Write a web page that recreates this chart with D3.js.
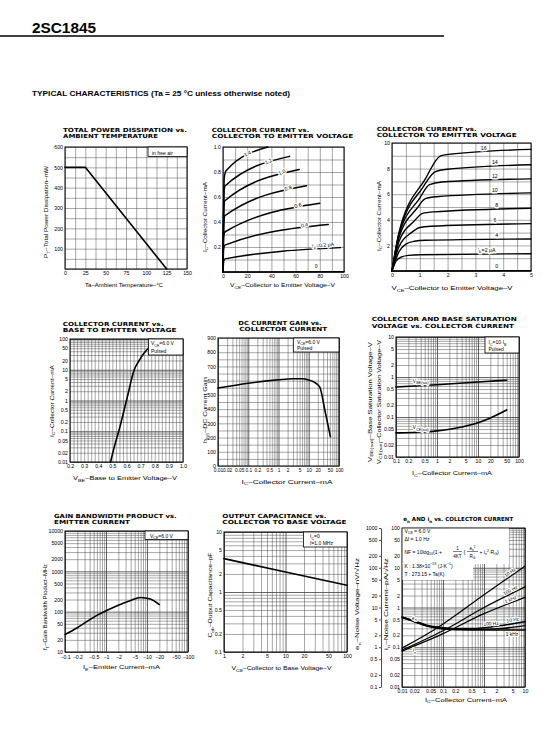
<!DOCTYPE html>
<html><head><meta charset="utf-8">
<script src="https://cdn.jsdelivr.net/npm/d3@7"></script>
<style>
body{margin:0;background:#fff;}
svg{display:block;}
</style></head><body>
<svg id="c" width="551" height="735"></svg>
<script>
// ================= DATA =================
// 1. Total power dissipation vs ambient temperature
const pdTemp = [0, 25, 125];
const pdPower = [500, 500, 0];
const pdXTicks = ["0","25","50","75","100","125","150"];
const pdYTicks = ["100","200","300","400","500","600"];

// 2. Collector current vs VCE (IB in uA), points [VCE, IC mA]
const lowIb0  = [[0,0],[100,0.003]];
const lowIb02 = [[0,0],[0.5,0.08],[1.5,0.105],[97,0.195]];
const lowIb04 = [[0,0],[0.5,0.18],[1.5,0.215],[87,0.38]];
const lowIb06 = [[0,0],[0.5,0.28],[1.5,0.32],[80,0.55]];
const lowIb08 = [[0,0],[0.7,0.40],[1.5,0.45],[69,0.69]];
const lowIb10 = [[0,0],[0.7,0.52],[1.5,0.57],[63,0.82]];
const lowIb12 = [[0,0],[0.8,0.64],[1.8,0.69],[55,0.925]];
const lowIb14 = [[0,0],[1.0,0.75],[2.5,0.81],[37,1.0]];
const lowIbNames = ["0","I_{B}=0.2 μA","0.4","0.6","0.8","1.0","1.2","1.4"];
const lowIbLabelAt = [77, 83, 68, 63, 55, 50, 39, 22];
const lowXTicks = ["0","20","40","60","80","100"];
const lowYTicks = ["0.2","0.4","0.6","0.8","1.0"];

// 3. Collector current vs VCE (higher IB)
const hiIb0  = [[0,0],[5,0.02]];
const hiIb2  = [[0,0],[0.15,0.8],[0.35,1.1],[0.6,1.22],[1,1.27],[5,1.35]];
const hiIb4  = [[0,0],[0.25,1.5],[0.5,2.1],[0.8,2.32],[1.2,2.4],[5,2.5]];
const hiIb6  = [[0,0],[0.25,1.9],[0.7,3.0],[1.0,3.4],[1.4,3.5],[5,3.7]];
const hiIb8  = [[0,0],[0.25,2.3],[0.8,3.9],[1.1,4.5],[1.5,4.62],[5,4.9]];
const hiIb10 = [[0,0],[0.25,2.6],[0.9,4.9],[1.2,5.65],[1.6,5.8],[5,6.1]];
const hiIb12 = [[0,0],[0.25,2.8],[1.0,5.7],[1.35,6.75],[1.8,6.95],[5,7.2]];
const hiIb14 = [[0,0],[0.25,2.9],[1.1,6.5],[1.55,7.75],[2,7.95],[5,8.3]];
const hiIb16 = [[0,0],[0.25,3.0],[1.2,7.2],[1.75,9.0],[2.2,9.15],[5,9.5]];
const hiIbNames = ["0","I_{B}=2 μA","4","6","8","10","12","14","16"];
const hiIbLabelAt = [3.77, 3.4, 3.77, 3.7, 3.77, 3.7, 3.7, 3.7, 3.3];
const hiXTicks = ["0","1","2","3","4","5"];
const hiYTicks = ["2","4","6","8","10"];

// 4. IC vs VBE
const vbeV  = [0.487, 0.52, 0.545, 0.6, 0.655, 0.69, 0.725, 0.755];
const vbeIc = [0.01, 0.04, 0.1, 1, 10, 20, 35, 50];
const vbeXTicks = ["0.2","0.3","0.4","0.5","0.6","0.7","0.8","0.9","1.0"];
const vbeYTicks = ["0.01","0.02","0.05","0.1","0.2","0.5","1","2","5","10","20","50","100"];

// 5. hFE vs IC
const hfeIc = [0.01, 0.1, 1, 3, 6, 10, 15, 23, 35, 52];
const hfe   = [548, 582, 606, 613, 613, 604, 590, 556, 380, 207];
const hfeXTicks = ["0.01","0.02","0.05","0.1","0.2","0.5","1","2","5","10","20","50","100"];
const hfeYTicks = ["0","100","200","300","400","500","600","700","800","900"];

// 6. Saturation voltages vs IC
const vbeSatIc = [0.1, 1, 10, 50];
const vbeSat   = [0.56, 0.64, 0.75, 0.83];
const vceSatIc = [0.1, 0.5, 1, 3, 6, 10, 20, 50];
const vceSat   = [0.040, 0.042, 0.045, 0.053, 0.062, 0.072, 0.095, 0.15];
const satXTicks = ["0.1","0.2","0.5","1","2","5","10","20","50","100"];
const satYTicks = ["0.01","0.02","0.05","0.1","0.2","0.5","1","2","5","10"];

// 7. fT vs IE
const ftIe = [0.1, 0.2, 0.6, 1, 2, 4, 7, 12, 20];
const ft   = [27, 40, 81, 105, 145, 190, 225, 205, 150];
const ftXTicks = ["0.1","0.2","0.5","1","2","5","10","20","50","100"];
const ftYTicks = ["10","20","50","100","200","500","1000","2000","5000","10000"];

// 8. Cob vs VCB
const cobV = [1, 10, 100];
const cob  = [3.6, 2.15, 1.3];
const cobXTicks = ["1","2","5","10","20","50","100"];
const cobYTicks = ["0.1","0.2","0.5","1","2","5","10"];

// 9. en and in vs IC
const en10Hz  = [[0.01,5.8],[0.02,4.6],[0.04,3.6],[0.08,3.2],[0.2,2.95],[0.5,2.95],[1,3.1],[3,3.6],[10,4.4]];
const en100Hz = [[0.01,5.7],[0.02,4.5],[0.04,3.5],[0.08,3.05],[0.2,2.85],[1,2.85],[3,3.0],[10,3.5]];
const en1kHz  = [[0.01,5.6],[0.02,4.4],[0.04,3.4],[0.08,2.95],[0.2,2.75],[1,2.7],[10,2.7]];
const in10Hz  = [[0.01,0.095],[0.08,0.33],[1,2.1],[10,11]];
const in100Hz = [[0.01,0.085],[0.1,0.26],[1,1.0],[10,3.3]];
const in1kHz  = [[0.01,0.08],[0.1,0.22],[1,0.7],[10,1.8]];
const noiseFreqs = ["10 Hz","100 Hz","1 kHz"];
const noiseXTicks = ["0.01","0.02","0.05","0.1","0.2","0.5","1","2","5","10"];
const inYTicks = ["0.01","0.02","0.05","0.1","0.2","0.5","1","2","5","10","20","50","100"];
const enYTicks = ["0.1","0.2","0.5","1","2","5","10","20","50","100","200","500","1000"];

// ================= DRAWING =================
const svg = d3.select('#c');
const FONT = '"Liberation Sans", Arial, sans-serif';
const TFONT = '"DejaVu Sans", sans-serif';
const GRID = '#3c3c3c';
const TFS = 5.2;

function rich(t, str, fs) {
  const parts = str.split(/(_\{[^}]*\}|\^\{[^}]*\})/).filter(s => s.length);
  let cur = 0;
  parts.forEach(p => {
    let target = 0, txt = p, size = fs;
    if (p.startsWith('_{')) { target = fs * 0.3; txt = p.slice(2, -1); size = fs * 0.72; }
    else if (p.startsWith('^{')) { target = -fs * 0.42; txt = p.slice(2, -1); size = fs * 0.72; }
    t.append('tspan').attr('dy', target - cur).attr('font-size', size).text(txt);
    cur = target;
  });
}
function label(g, str, x, y, o = {}) {
  const fs = o.fs || 6;
  const t = g.append('text').attr('x', x).attr('y', y).attr('font-size', fs)
    .attr('font-family', o.font || FONT).attr('text-anchor', o.anchor || 'start').attr('fill', '#000');
  if (o.bold) t.attr('font-weight', 'bold');
  if (o.rotate) t.attr('transform', `rotate(${o.rotate},${x},${y})`);
  if (o.len) t.attr('textLength', o.len).attr('lengthAdjust', 'spacingAndGlyphs');
  if (o.halo) t.attr('stroke', '#fff').attr('stroke-width', o.halo).attr('paint-order', 'stroke').attr('stroke-linejoin', 'round');
  rich(t, str, fs);
  return t;
}
function logGrid(lo, hi) {
  const out = [];
  for (let e = Math.floor(Math.log10(lo)); e <= Math.ceil(Math.log10(hi)); e++)
    for (let k = 1; k <= 9; k++) { const v = k * Math.pow(10, e); if (v >= lo * 0.999 && v <= hi * 1.001) out.push(v); }
  return out;
}
const isDecade = d => Math.abs(Math.log10(d) - Math.round(Math.log10(d))) < 1e-6;

function makeChart(c) {
  const g = svg.append('g');
  const x = (c.xLog ? d3.scaleLog() : d3.scaleLinear()).domain(c.xDomain).range([c.x0, c.x1]);
  const y = (c.yLog ? d3.scaleLog() : d3.scaleLinear()).domain(c.yDomain).range([c.y1, c.y0]);
  const gridG = g.append('g');
  const gx = gridG.append('g').attr('transform', `translate(0,${c.y1})`)
    .call(d3.axisBottom(x).tickValues(c.xGrid).tickSize(-(c.y1 - c.y0)).tickFormat(''));
  gx.select('.domain').remove();
  gx.selectAll('line').attr('stroke', GRID).attr('stroke-width', d => (c.xLog && isDecade(d)) ? 0.8 : 0.45);
  const gy = gridG.append('g').attr('transform', `translate(${c.x0},0)`)
    .call(d3.axisLeft(y).tickValues(c.yGrid).tickSize(-(c.x1 - c.x0)).tickFormat(''));
  gy.select('.domain').remove();
  gy.selectAll('line').attr('stroke', GRID).attr('stroke-width', d => (c.yLog && isDecade(d)) ? 0.8 : 0.45);
  g.append('rect').attr('x', c.x0).attr('y', c.y0).attr('width', c.x1 - c.x0).attr('height', c.y1 - c.y0)
    .attr('fill', 'none').attr('stroke', '#000').attr('stroke-width', 1);
  // tick labels
  const xfmt = c.xFmt || (s => s);
  const ax = g.append('g').attr('transform', `translate(0,${c.y1})`)
    .call(d3.axisBottom(x).tickValues(c.xTicks.map(Number)).tickFormat((d, i) => xfmt(c.xTicks[i])).tickSize(0).tickPadding(c.xPad || 2.6));
  ax.attr('font-size', c.xfs || TFS).attr('font-family', FONT);
  ax.select('.domain').remove(); ax.selectAll('.tick line').remove(); ax.selectAll('text').attr('fill', '#000');
  if (c.yTicks) {
    const ay = g.append('g').attr('transform', `translate(${c.x0},0)`)
      .call(d3.axisLeft(y).tickValues(c.yTicks.map(Number)).tickFormat((d, i) => c.yTicks[i]).tickSize(0).tickPadding(2));
    ay.attr('font-size', TFS).attr('font-family', FONT);
    ay.select('.domain').remove(); ay.selectAll('.tick line').remove(); ay.selectAll('text').attr('fill', '#000');
  }
  // titles
  c.titles.forEach(t => label(g, t.t, t.x, t.y, { fs: 5.6, bold: true, font: TFONT, len: t.len }));
  label(g, c.xTitle.t, c.xTitle.cx, c.xTitle.y, { fs: 6, anchor: 'middle', len: c.xTitle.len });
  c.yTitles.forEach(t => {
    const xx = t.cx + 6 * 0.36;
    label(g, t.t, xx, t.cy, { fs: 6, anchor: 'middle', len: t.len, rotate: -90 });
  });
  return { g, x, y, c };
}
function drawLine(ch, pts, w = 1.6, curve = d3.curveMonotoneX) {
  const ln = d3.line().x(d => ch.x(d[0])).y(d => ch.y(d[1])).curve(curve);
  ch.g.append('path').attr('d', ln(pts)).attr('fill', 'none').attr('stroke', '#000')
    .attr('stroke-width', w).attr('stroke-linejoin', 'round').attr('stroke-linecap', 'round');
}
function interp(ch, pts, xv) {
  const fx = ch.c.xLog ? Math.log10 : v => v, fy = ch.c.yLog ? Math.log10 : v => v, iy = ch.c.yLog ? v => Math.pow(10, v) : v => v;
  for (let i = 0; i < pts.length - 1; i++) {
    const a = pts[i], b = pts[i + 1];
    if (xv >= a[0] && xv <= b[0]) { const t = (fx(xv) - fx(a[0])) / (fx(b[0]) - fx(a[0])); return iy(fy(a[1]) + t * (fy(b[1]) - fy(a[1]))); }
  }
  return pts[pts.length - 1][1];
}
function curveLabel(ch, pts, xv, txt, o = {}) {
  const px = ch.x(xv), py = ch.y(interp(ch, pts, xv));
  let ang = 0;
  if (o.rotate) {
    const xa = ch.c.xLog ? xv / 1.2 : xv - 2, xb = ch.c.xLog ? xv * 1.2 : xv + 2;
    ang = Math.atan2(ch.y(interp(ch, pts, xb)) - ch.y(interp(ch, pts, xa)), ch.x(xb) - ch.x(xa)) * 180 / Math.PI;
  }
  const gg = ch.g.append('g').attr('transform', `translate(${px + (o.dx || 0)},${py}) rotate(${ang})`);
  label(gg, txt, 0, o.off !== undefined ? o.off : -2.2, { fs: o.fs || 5.2, anchor: 'middle', halo: o.halo || 2.4 });
}
function legendBox(ch, x, y, w, h, lines) {
  ch.g.append('rect').attr('x', x).attr('y', y).attr('width', w).attr('height', h)
    .attr('fill', '#fff').attr('stroke', '#000').attr('stroke-width', 0.8);
  lines.forEach(l => label(ch.g, l.t, l.x, l.y, { fs: 5 }));
}
const zip = (a, b) => a.map((v, i) => [v, b[i]]);

// ---- Header ----
label(svg, "2SC1845", 32, 33, { fs: 14.5, bold: true, len: 64 });
svg.append('line').attr('x1', 0).attr('x2', 444).attr('y1', 36).attr('y2', 36).attr('stroke', '#000').attr('stroke-width', 1.3);
label(svg, "TYPICAL CHARACTERISTICS (Ta = 25 °C unless otherwise noted)", 32, 95.5, { fs: 7.2, bold: true, len: 258 });

// ---- Chart 1 ----
const c1 = makeChart({ x0: 65, x1: 187, y0: 147, y1: 269, xDomain: [0, 150], yDomain: [0, 600],
  xGrid: d3.range(0, 150.01, 12.5), yGrid: d3.range(0, 600.01, 50), xTicks: pdXTicks, yTicks: pdYTicks,
  titles: [{ t: "TOTAL POWER DISSIPATION vs.", x: 63, y: 132.3, len: 124 }, { t: "AMBIENT TEMPERATURE", x: 63, y: 138.3, len: 95 }],
  xTitle: { t: "Ta–Ambient Temperature–°C", cx: 124, y: 286.5, len: 78 },
  yTitles: [{ t: "P_{T}–Total Power Dissipation–mW", cx: 46, cy: 212, len: 92 }] });
drawLine(c1, zip(pdTemp, pdPower), 1.6, d3.curveLinear);
legendBox(c1, 148, 147, 39, 9.5, [{ t: "in free air", x: 152, y: 154.5 }]);

// ---- Chart 2 ----
const c2 = makeChart({ x0: 223, x1: 344, y0: 147, y1: 272, xDomain: [0, 100], yDomain: [0, 1.0],
  xGrid: d3.range(0, 100.01, 10), yGrid: d3.range(0, 1.001, 0.1), xTicks: lowXTicks, yTicks: lowYTicks,
  titles: [{ t: "COLLECTOR CURRENT vs.", x: 211.7, y: 131.7, len: 97.6 }, { t: "COLLECTOR TO EMITTER VOLTAGE", x: 211.7, y: 137.7, len: 141.6 }],
  xTitle: { t: "V_{CE}–Collector to Emitter Voltage–V", cx: 282.5, y: 287, len: 105 },
  yTitles: [{ t: "I_{C}–Collector Current–mA", cx: 204.5, cy: 217, len: 70 }] });
const lowSeries = [lowIb0, lowIb02, lowIb04, lowIb06, lowIb08, lowIb10, lowIb12, lowIb14];
lowSeries.forEach(s => drawLine(c2, s, 1.5));
lowSeries.forEach((s, i) => curveLabel(c2, s, lowIbLabelAt[i], lowIbNames[i], { rotate: i > 0, off: i === 0 ? -4 : -2.4 }));

// ---- Chart 3 ----
const c3 = makeChart({ x0: 392, x1: 531, y0: 143, y1: 271, xDomain: [0, 5], yDomain: [0, 10],
  xGrid: d3.range(0, 5.01, 0.5), yGrid: d3.range(0, 10.01, 1), xTicks: hiXTicks, yTicks: hiYTicks,
  titles: [{ t: "COLLECTOR CURRENT vs.", x: 376.7, y: 131, len: 100 }, { t: "COLLECTOR TO EMITTER VOLTAGE", x: 376.7, y: 137, len: 140 }],
  xTitle: { t: "V_{CE}–Collector to Emitter Voltage–V", cx: 452, y: 290, len: 121 },
  yTitles: [{ t: "I_{C}–Collector Current–mA", cx: 378.5, cy: 216, len: 70 }] });
const hiSeries = [hiIb0, hiIb2, hiIb4, hiIb6, hiIb8, hiIb10, hiIb12, hiIb14, hiIb16];
hiSeries.forEach(s => drawLine(c3, s, 1.4));
hiSeries.forEach((s, i) => curveLabel(c3, s, hiIbLabelAt[i], hiIbNames[i], { off: -2.6, halo: 3 }));

// ---- Chart 4 ----
const c4 = makeChart({ x0: 70, x1: 183, y0: 339, y1: 462, xDomain: [0.2, 1.0], yDomain: [0.01, 100], yLog: true,
  xGrid: d3.range(0.2, 1.001, 0.025), yGrid: logGrid(0.01, 100), xTicks: vbeXTicks, yTicks: vbeYTicks,
  titles: [{ t: "COLLECTOR CURRENT vs.", x: 62.7, y: 326, len: 100.7 }, { t: "BASE TO EMITTER VOLTAGE", x: 62.7, y: 331.8, len: 114 }],
  xTitle: { t: "V_{BE}–Base to Emitter Voltage–V", cx: 125, y: 480, len: 104 },
  yTitles: [{ t: "I_{C}–Collector Current–mA", cx: 51.5, cy: 401, len: 72 }] });
drawLine(c4, zip(vbeV, vbeIc), 1.6);
legendBox(c4, 148.5, 339, 34.5, 16, [{ t: "V_{CE}=6.0 V", x: 151, y: 345 }, { t: "Pulsed", x: 151, y: 352.7 }]);

// ---- Chart 5 ----
const c5 = makeChart({ x0: 218, x1: 339, y0: 338, y1: 466, xDomain: [0.01, 100], yDomain: [0, 900], xLog: true, xfs: 4.8,
  xGrid: logGrid(0.01, 100), yGrid: d3.range(0, 900.01, 50), xTicks: hfeXTicks, yTicks: hfeYTicks,
  titles: [{ t: "DC CURRENT GAIN vs.", x: 238.3, y: 325.3, len: 83.4 }, { t: "COLLECTOR CURRENT", x: 239.3, y: 331, len: 88 }],
  xTitle: { t: "I_{C}–Collector Current–mA", cx: 287, y: 483.5, len: 91 },
  yTitles: [{ t: "h_{FE}–DC Current Gain", cx: 205, cy: 410, len: 66 }] });
drawLine(c5, zip(hfeIc, hfe), 1.6);
legendBox(c5, 293.3, 338, 45.7, 14, [{ t: "V_{CE}=6.0 V", x: 297, y: 343.8 }, { t: "Pulsed", x: 297, y: 350.3 }]);

// ---- Chart 6 ----
const c6 = makeChart({ x0: 396, x1: 519, y0: 337, y1: 457, xDomain: [0.1, 100], yDomain: [0.01, 10], xLog: true, yLog: true,
  xGrid: logGrid(0.1, 100), yGrid: logGrid(0.01, 10), xTicks: satXTicks, yTicks: satYTicks,
  titles: [{ t: "COLLECTOR AND BASE SATURATION", x: 371.7, y: 321, len: 145 }, { t: "VOLTAGE vs. COLLECTOR CURRENT", x: 371.7, y: 327.7, len: 142.3 }],
  xTitle: { t: "I_{C}–Collector Current–mA", cx: 452, y: 475, len: 80 },
  yTitles: [{ t: "V_{BE(sat)}–Base Saturation Voltage–V", cx: 369.5, cy: 402, len: 120 },
            { t: "V_{CE(sat)}–Collector Saturation Voltage–V", cx: 378.5, cy: 402, len: 124 }] });
const vbeSatPts = zip(vbeSatIc, vbeSat), vceSatPts = zip(vceSatIc, vceSat);
drawLine(c6, vbeSatPts, 1.6);
drawLine(c6, vceSatPts, 1.6);
curveLabel(c6, vbeSatPts, 0.4, "V_{BE(sat)}", { off: -2.8, fs: 5.2 });
curveLabel(c6, vceSatPts, 0.4, "V_{CE(sat)}", { off: -3.2, fs: 5.2 });
legendBox(c6, 485, 337, 34, 16, [{ t: "I_{C}=10·I_{B}", x: 488.5, y: 344 }, { t: "Pulsed", x: 488.5, y: 351.2 }]);

// ---- Chart 7 ----
const c7 = makeChart({ x0: 65, x1: 188, y0: 531, y1: 652, xDomain: [0.1, 100], yDomain: [10, 10000], xLog: true, yLog: true,
  xGrid: logGrid(0.1, 100), yGrid: logGrid(10, 10000), xTicks: ftXTicks, yTicks: ftYTicks, xFmt: s => "−" + s, xPad: 3.4,
  titles: [{ t: "GAIN BANDWIDTH PRODUCT vs.", x: 54, y: 518.3, len: 122.7 }, { t: "EMITTER CURRENT", x: 54, y: 523.9, len: 76 }],
  xTitle: { t: "I_{E}–Emitter Current–mA", cx: 121.5, y: 669, len: 77 },
  yTitles: [{ t: "f_{T}–Gain Bandwidth Product–MHz", cx: 45, cy: 607, len: 86 }] });
drawLine(c7, zip(ftIe, ft), 1.6);
legendBox(c7, 145, 531, 43, 8.5, [{ t: "V_{CE}=6.0 V", x: 150, y: 537.8 }]);

// ---- Chart 8 ----
const c8 = makeChart({ x0: 224, x1: 347, y0: 532, y1: 652, xDomain: [1, 100], yDomain: [0.1, 10], xLog: true, yLog: true,
  xGrid: logGrid(1, 100), yGrid: logGrid(0.1, 10), xTicks: cobXTicks, yTicks: cobYTicks,
  titles: [{ t: "OUTPUT CAPACITANCE vs.", x: 222.3, y: 518.3, len: 104.3 }, { t: "COLLECTOR TO BASE VOLTAGE", x: 222.3, y: 523.9, len: 124.3 }],
  xTitle: { t: "V_{CB}–Collector to Base Voltage–V", cx: 281.5, y: 670, len: 100 },
  yTitles: [{ t: "C_{ob}–Output Capacitance–pF", cx: 210, cy: 595, len: 85 }] });
drawLine(c8, zip(cobV, cob), 1.6);
legendBox(c8, 303.5, 532, 43.5, 15, [{ t: "I_{C}=0", x: 310, y: 538 }, { t: "f=1.0 MHz", x: 310, y: 545 }]);

// ---- Chart 9 ----
const c9 = makeChart({ x0: 402, x1: 525, y0: 528, y1: 687, xDomain: [0.01, 10], yDomain: [0.01, 100], xLog: true, yLog: true,
  xGrid: logGrid(0.01, 10), yGrid: logGrid(0.01, 100), xTicks: noiseXTicks, yTicks: inYTicks,
  titles: [{ t: "e_{n} AND i_{n} vs. COLLECTOR CURRENT", x: 403.3, y: 521, len: 110 }],
  xTitle: { t: "I_{C}–Collector Current–mA", cx: 466, y: 701.5, len: 82 },
  yTitles: [{ t: "e_{n}–Noise Voltage–nV/√Hz", cx: 357, cy: 604, len: 92 },
            { t: "i_{n}–Noise Current–pA/√Hz", cx: 386, cy: 604, len: 92 }] });
// outer en axis
const yEn = d3.scaleLog().domain([0.1, 1000]).range([687, 528]);
const aEn = c9.g.append('g').attr('transform', 'translate(381,0)')
  .call(d3.axisLeft(yEn).tickValues(enYTicks.map(Number)).tickFormat((d, i) => enYTicks[i]).tickSize(2).tickSizeOuter(0).tickPadding(1.5));
aEn.attr('font-size', TFS).attr('font-family', FONT);
aEn.selectAll('path,line').attr('stroke', '#000').attr('stroke-width', 0.7);
aEn.selectAll('text').attr('fill', '#000');
// white area behind the formula text
c9.g.append('rect').attr('x', 402.5).attr('y', 528.5).attr('width', 106.5).attr('height', 35.5).attr('fill', '#fff');
c9.g.append('rect').attr('x', 402.5).attr('y', 563).attr('width', 70.5).attr('height', 17).attr('fill', '#fff');
// curves
const enScaled = s => s.map(d => [d[0], d[1] / 10]); // en plotted on outer axis (one decade offset)
const enSeries = [en10Hz, en100Hz, en1kHz], inSeries = [in10Hz, in100Hz, in1kHz];
inSeries.forEach(s => drawLine(c9, s, 1.2));
enSeries.forEach(s => drawLine({ g: c9.g, x: c9.x, y: v => yEn(v), c: c9.c }, s, 1.5));
inSeries.forEach((s, i) => curveLabel(c9, s, 4.8, noiseFreqs[i], { rotate: true, off: -1.8, fs: 4.8, halo: 2 }));
curveLabel(c9, enScaled(en100Hz), 1.5, noiseFreqs[1], { rotate: true, off: -3.5, fs: 4.8, halo: 2 });
curveLabel(c9, enScaled(en10Hz), 5.2, noiseFreqs[0], { rotate: true, off: -2.2, fs: 4.8, halo: 2 });
curveLabel(c9, enScaled(en1kHz), 4.8, noiseFreqs[2], { off: 6.2, fs: 4.8, halo: 2 });
curveLabel(c9, enScaled(en1kHz), 0.02, "e_{n}", { off: -2, fs: 5, halo: 2 });
curveLabel(c9, in1kHz, 0.02, "i_{n}", { off: 6.5, fs: 5, halo: 2 });
// conditions text
const nf = 5;
label(c9.g, "V_{CE} = 6.0 V", 404.5, 532.5, { fs: nf });
label(c9.g, "Δf = 1.0 Hz", 404.5, 541, { fs: nf });
label(c9.g, "NF = 10log_{10}(1 +", 404.5, 553.8, { fs: nf });
label(c9.g, "1", 457.5, 550, { fs: nf - 0.5, anchor: 'middle' });
c9.g.append('line').attr('x1', 453).attr('x2', 462).attr('y1', 551.5).attr('y2', 551.5).attr('stroke', '#000').attr('stroke-width', 0.5);
label(c9.g, "4KT", 457.5, 557.5, { fs: nf - 0.5, anchor: 'middle' });
label(c9.g, "(", 463.5, 554.3, { fs: nf + 1 });
label(c9.g, "e_{n}^{2}", 472.5, 549.8, { fs: nf - 0.5, anchor: 'middle' });
c9.g.append('line').attr('x1', 467).attr('x2', 478).attr('y1', 551.5).attr('y2', 551.5).attr('stroke', '#000').attr('stroke-width', 0.5);
label(c9.g, "R_{G}", 472.5, 557.5, { fs: nf - 0.5, anchor: 'middle' });
label(c9.g, "+ i_{n}^{2}·R_{G})", 479.5, 553.8, { fs: nf });
label(c9.g, "K : 1.38×10^{−23} (J·K^{−1})", 404.5, 567.5, { fs: nf });
label(c9.g, "T : 273.15 + Ta(K)", 404.5, 576.3, { fs: nf });
</script></body></html>
